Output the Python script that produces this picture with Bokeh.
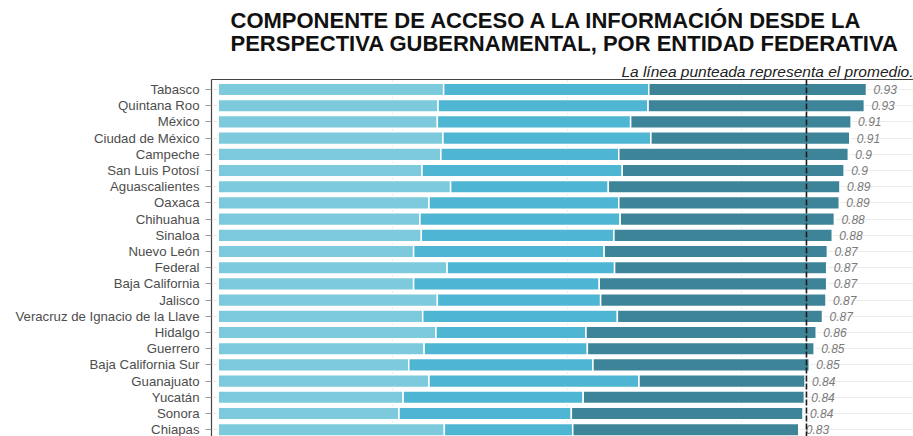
import numpy as np
from bokeh.plotting import figure
from bokeh.models import Range1d, FixedTicker, Span, Title, ColumnDataSource, LinearAxis
from bokeh.core.properties import value
from bokeh.embed import file_html
from bokeh.resources import INLINE

entidades = ["Tabasco", "Quintana Roo", "México", "Ciudad de México", "Campeche",
             "San Luis Potosí", "Aguascalientes", "Oaxaca", "Chihuahua", "Sinaloa",
             "Nuevo León", "Federal", "Baja California", "Jalisco",
             "Veracruz de Ignacio de la Llave", "Hidalgo", "Guerrero",
             "Baja California Sur", "Guanajuato", "Yucatán", "Sonora", "Chiapas"]

comp1 = [0.323, 0.315, 0.314, 0.322, 0.319, 0.292, 0.333, 0.302, 0.289, 0.291, 0.280,
         0.328, 0.280, 0.314, 0.293, 0.312, 0.295, 0.273, 0.302, 0.265, 0.259, 0.324]
comp2 = [0.294, 0.301, 0.277, 0.298, 0.255, 0.287, 0.226, 0.272, 0.287, 0.276, 0.273,
         0.240, 0.266, 0.234, 0.279, 0.215, 0.234, 0.264, 0.301, 0.258, 0.247, 0.184]
comp3 = [0.312, 0.310, 0.316, 0.285, 0.329, 0.318, 0.332, 0.316, 0.307, 0.313, 0.320,
         0.304, 0.326, 0.323, 0.294, 0.330, 0.325, 0.310, 0.238, 0.317, 0.332, 0.324]
etiquetas = ["0.93", "0.93", "0.91", "0.91", "0.9", "0.9", "0.89", "0.89", "0.88", "0.88",
             "0.87", "0.87", "0.87", "0.87", "0.87", "0.86", "0.85", "0.85", "0.84",
             "0.84", "0.84", "0.83"]
promedio = 0.843

colores = ["#7ccadc", "#4eb5d3", "#3d8499"]

pos = np.arange(len(entidades))
c1 = np.array(comp1)
c2 = c1 + np.array(comp2)
c3 = c2 + np.array(comp3)

src = ColumnDataSource(dict(y=pos, l1=np.zeros_like(c1), r1=c1, l2=c1, r2=c2, l3=c2, r3=c3,
                            tot=c3, lab=etiquetas))

p = figure(width=913, height=436, output_backend="svg", toolbar_location=None,
           x_range=Range1d(-0.0097, 0.9964), y_range=Range1d(21.42, -0.62),
           min_border_left=211, min_border_right=0, min_border_bottom=0, min_border_top=0)
p.background_fill_color = "white"
p.border_fill_color = "white"
p.outline_line_color = None

for (l, r), col in zip([("l1", "r1"), ("l2", "r2"), ("l3", "r3")], colores):
    p.hbar(y="y", left=l, right=r, height=0.78, source=src, fill_color=col,
           line_color="white", line_width=1.5)

p.text(x="tot", y="y", text="lab", source=src, x_offset=7, text_baseline="middle",
       text_font=value("Liberation Sans"), text_font_style="italic",
       text_font_size="12px", text_color="#7a7a7a")

p.add_layout(Span(location=promedio, dimension="height", line_color="#1a1a1a",
                  line_width=1.6, line_dash="6 2"))

p.xaxis.visible = False
p.yaxis.ticker = FixedTicker(ticks=list(pos))
p.yaxis.major_label_overrides = {int(i): n for i, n in zip(pos, entidades)}
p.yaxis.major_label_text_font = "Liberation Sans"
p.yaxis.major_label_text_font_size = "13.2px"
p.yaxis.major_label_text_color = "#4d4d4d"
p.yaxis.major_label_standoff = 6
p.yaxis.major_tick_out = 6
p.yaxis.major_tick_in = 0
p.yaxis.minor_tick_out = 0
p.yaxis.minor_tick_in = 0
p.yaxis.major_tick_line_color = "#999999"
p.yaxis.axis_line_color = "#444444"
p.yaxis.axis_line_width = 1.2

p.ygrid.grid_line_color = "#ececec"
p.xgrid.ticker = FixedTicker(ticks=[0.25, 0.5, 0.75])
p.xgrid.grid_line_color = "#ececec"

top = LinearAxis(ticker=FixedTicker(ticks=[]), major_tick_out=0, major_tick_in=0,
                 minor_tick_out=0, minor_tick_in=0, major_label_text_font_size="0px",
                 major_label_standoff=0, axis_line_color="#444444", axis_line_width=1.2)
p.add_layout(top, "above")

p.add_layout(Title(text="La línea punteada representa el promedio.", align="right",
                   text_font="Liberation Sans", text_font_style="italic",
                   text_font_size="15.5px", text_color="#222222", standoff=0), "above")
p.add_layout(Title(text="COMPONENTE DE ACCESO A LA INFORMACIÓN DESDE LA\n"
                        "PERSPECTIVA GUBERNAMENTAL, POR ENTIDAD FEDERATIVA",
                   align="left", offset=19, text_font="Liberation Sans",
                   text_font_style="bold", text_font_size="22px", text_color="#111111",
                   text_line_height=0.92, standoff=10), "above")

open("out.html", "w").write(file_html(p, INLINE))
